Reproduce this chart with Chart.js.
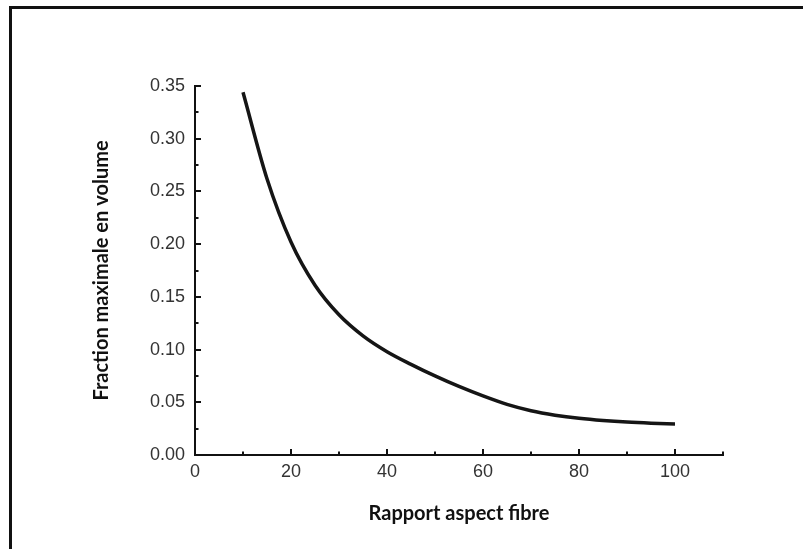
<!DOCTYPE html>
<html>
<head>
<meta charset="utf-8">
<script src="https://cdn.jsdelivr.net/npm/chart.js@4/dist/chart.umd.min.js"></script>
<style>
	body { margin: 0; background: #fff; }
	#wrap { position: relative; width: 803px; height: 549px; }
	#frame { position: absolute; left: 9px; top: 6px; right: 0; bottom: 0; border-left: 3px solid #111; border-top: 3px solid #111; pointer-events: none; }
</style>
</head>
<body>
<div id="wrap">
	<canvas id="chart" width="803" height="549"></canvas>
	<div id="frame"></div>
</div>
<script>
//values
const aspectRatio = [10, 15, 20, 25, 30, 35, 40, 45, 50, 55, 60, 65, 70, 75, 80, 85, 90, 95, 100];
const maxFraction = [0.344, 0.262, 0.202, 0.161, 0.133, 0.113, 0.098, 0.086, 0.075, 0.065, 0.056, 0.048, 0.042, 0.0378, 0.0348, 0.0327, 0.0312, 0.0302, 0.0295];

//tick values
const xTicks = [0, 20, 40, 60, 80, 100];
const xMinorTicks = [10, 30, 50, 70, 90, 110];
const yTicks = [0, 0.05, 0.10, 0.15, 0.20, 0.25, 0.30, 0.35];
const yMinorTicks = [0.025, 0.075, 0.125, 0.175, 0.225, 0.275, 0.325];

const xTitle = 'Rapport aspect fibre';
const yTitle = 'Fraction maximale en volume';

//draws the tick marks on the inner side of the axes
const innerTicks = {
	id: 'innerTicks',
	afterDraw(chart) {
		const ctx = chart.ctx;
		const x = chart.scales.x;
		const y = chart.scales.y;
		const area = chart.chartArea;
		ctx.save();
		ctx.strokeStyle = '#111';
		ctx.lineWidth = 2;
		ctx.beginPath();
		xTicks.forEach(v => {
			const px = Math.round(x.getPixelForValue(v));
			ctx.moveTo(px, area.bottom);
			ctx.lineTo(px, area.bottom - 6);
		});
		xMinorTicks.forEach(v => {
			const px = Math.round(x.getPixelForValue(v));
			ctx.moveTo(px, area.bottom);
			ctx.lineTo(px, area.bottom - 3.5);
		});
		yTicks.forEach(v => {
			const py = Math.round(y.getPixelForValue(v));
			ctx.moveTo(area.left, py);
			ctx.lineTo(area.left + 6, py);
		});
		yMinorTicks.forEach(v => {
			const py = Math.round(y.getPixelForValue(v));
			ctx.moveTo(area.left, py);
			ctx.lineTo(area.left + 3.5, py);
		});
		ctx.stroke();
		ctx.restore();
	}
};

const tickFont = { family: '"Liberation Sans", Arial, sans-serif', size: 18 };
const titleFont = { family: 'Lato, "Open Sans", sans-serif', size: 20, weight: 'bold' };

new Chart(document.getElementById('chart'), {
	type: 'line',
	data: {
		datasets: [{
			data: aspectRatio.map((v, i) => ({ x: v, y: maxFraction[i] })),
			borderColor: '#151515',
			borderWidth: 3.5,
			pointRadius: 0,
			cubicInterpolationMode: 'monotone',
			fill: false
		}]
	},
	options: {
		responsive: false,
		animation: false,
		layout: { padding: { top: 86, right: 80, left: 0, bottom: 0 } },
		plugins: { legend: { display: false }, tooltip: { enabled: false } },
		scales: {
			x: {
				type: 'linear',
				min: 0,
				max: 110,
				afterBuildTicks: (scale) => { scale.ticks = xTicks.map(v => ({ value: v })); },
				afterFit: (scale) => { scale.height = 94; },
				grid: { display: false, drawTicks: false },
				border: { display: true, color: '#111', width: 2 },
				ticks: { font: tickFont, color: '#333', padding: 6, maxRotation: 0 },
				title: { display: true, text: xTitle, font: titleFont, color: '#111', padding: { top: 0, bottom: 23 } }
			},
			y: {
				min: 0,
				max: 0.35,
				afterBuildTicks: (scale) => { scale.ticks = yTicks.map(v => ({ value: v })); },
				afterFit: (scale) => { scale.width = 195; },
				grid: { display: false, drawTicks: false },
				border: { display: true, color: '#111', width: 2 },
				ticks: { font: tickFont, color: '#333', padding: 10, callback: (v) => v.toFixed(2) },
				title: { display: true, text: yTitle, font: titleFont, color: '#111', padding: { top: 90, bottom: 0 } }
			}
		}
	},
	plugins: [innerTicks]
});
</script>
</body>
</html>
